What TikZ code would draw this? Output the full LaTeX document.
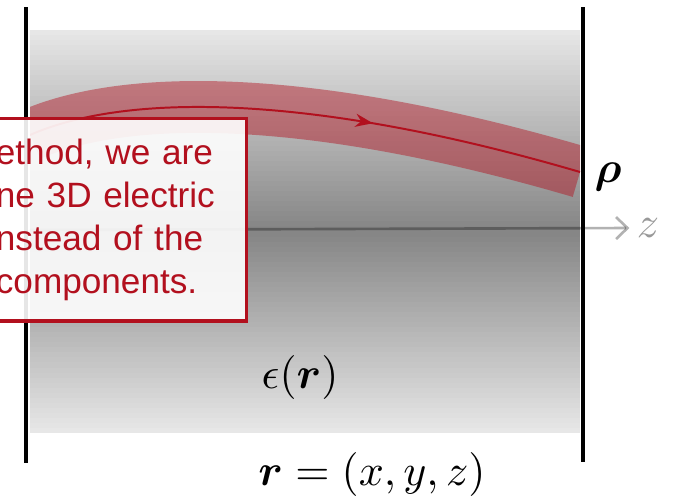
\documentclass[tikz,border=0pt]{standalone}
\usepackage{amsmath}
\usepackage{fontspec}
\newfontfamily\calloutfont{Liberation Sans}
\usetikzlibrary{arrows.meta, decorations.markings}
\definecolor{notered}{RGB}{178,16,30}

\begin{document}
\begin{tikzpicture}[x=0.008cm, y=-0.008cm,
    wall/.style={line width=0.9pt, black},
    axisline/.style={line width=0.6pt, black, draw opacity=0.3,
        -{Straight Barb[length=2.6pt, width=5pt]}},
    beam/.style={line width=11.8pt, notered, draw opacity=0.45},
    ray/.style={line width=0.45pt, notered}
    ]
            \useasboundingbox (0,0) rectangle (675,495);
            \clip (0,0) rectangle (675,495);

            % 1. A szurke kozeg (eps) kirajzolasa, csikokbol
            \foreach \i in {0,...,79} {
                \pgfmathsetmacro{\ya}{30+\i*5.0375}
                \pgfmathsetmacro{\yb}{\ya+6}
                \pgfmathsetmacro{\shadeval}{9+39*(1-abs(2*(\i+0.5)/80-1))}
                \fill[black!\shadeval] (30,\ya) rectangle (580,{min(\yb,433)});
            }

            % 2. z tengely
            \coordinate (z-0) at (30,230);
            \node[text=black!40, inner sep=0pt] (z-lab) at (648,228) {$z$};
            \draw[axisline] (z-0) -- ([xshift=-1.5pt]z-lab.west);

            % 3. Nyalab es sugar
            \coordinate (ray-in) at (30,135);
            \coordinate (ray-out) at (580,172);
            \begin{scope}
                \clip (30,30) rectangle (580,433);
                \draw[beam] (ray-in) .. controls (120,95) and (300,90) .. (ray-out);
                \draw[ray, postaction={decorate, decoration={markings,
                        mark=at position 0.62 with {\arrow{Stealth[length=4pt, width=3pt]}}}}]
                    (ray-in) .. controls (120,95) and (300,90) .. (ray-out);
            \end{scope}

            % 4. Falak
            \draw[wall] (26,7) -- (26,463);
            \draw[wall] (583,7) -- (583,462);

            % 5. Feliratok
            \node[anchor=base] (rho) at (608,182) {$\boldsymbol{\rho}$};
            \node[anchor=base] (eps) at (300,388) {$\epsilon(\boldsymbol{r})$};
            \node[anchor=base] (rvec) at (372,485) {$\boldsymbol{r} = (x, y, z)$};

            % 6. Megjegyzes doboz
            \node[
                draw=notered,
                line width=0.7pt,
                fill=white, fill opacity=0.9, text opacity=1,
                text=notered,
                font=\calloutfont\fontsize{8}{9.8}\selectfont,
                text width=52pt, align=left,
                inner xsep=5pt, inner ysep=4.6pt,
                anchor=north east
            ] (note) at (248,117) {ethod, we are\\ne 3D electric\\nstead of the\\components.};
        \end{tikzpicture}
\end{document}
